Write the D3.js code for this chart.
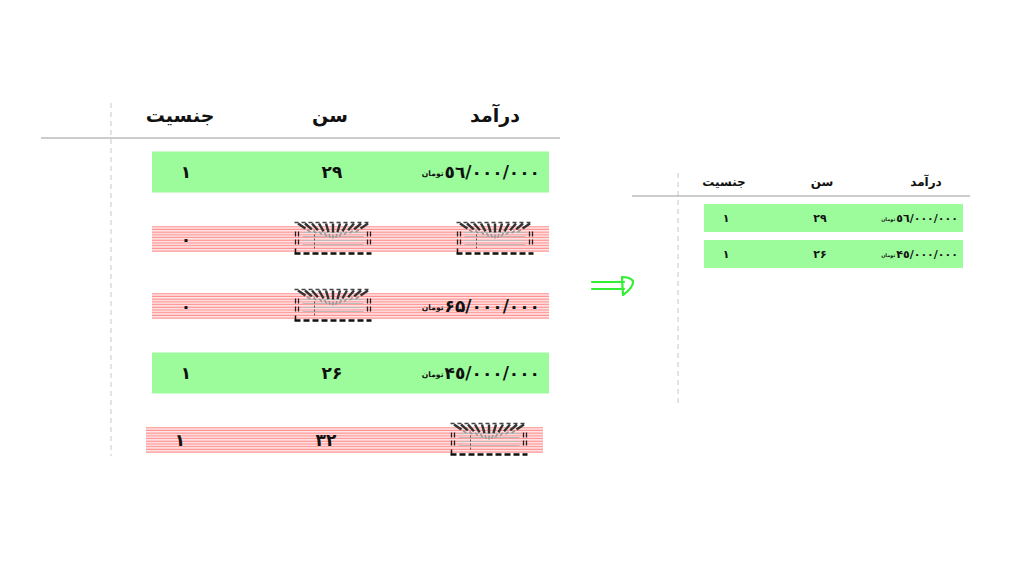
<!DOCTYPE html>
<html lang="fa">
<head>
<meta charset="utf-8">
<script src="https://cdn.jsdelivr.net/npm/d3@7"></script>
<style>
  html, body { margin:0; padding:0; background:#fff; }
  svg { display:block; }
  text { font-family:"DejaVu Sans", "Noto Sans", sans-serif; font-weight:bold; fill:#111; }
</style>
</head>
<body>
<div id="chart"></div>
<script>
/* missing-data cleanup: rows with empty cells are dropped */

const COLUMNS = ["جنسیت", "سن", "درآمد"];
const GENDER  = ["۱", "۰", "۰", "۱", "۱"];
const AGE     = ["۲۹", null, null, "۲۶", "۳۲"];
const INCOME  = ["٥٦/۰۰۰/۰۰۰", null, "۶۵/۰۰۰/۰۰۰", "۴٥/۰۰۰/۰۰۰", null];
const UNIT    = "تومان";

const ROWS = GENDER.map((g, i) => ({ i, gender:g, age:AGE[i], income:INCOME[i] }));
const complete = r => r.gender !== null && r.age !== null && r.income !== null;
const KEPT = ROWS.filter(complete);

const W = 1024, H = 576;
const svg = d3.select("#chart").append("svg").attr("width", W).attr("height", H);

const defs = svg.append("defs");
const pat = defs.append("pattern").attr("id", "stripes")
  .attr("patternUnits", "userSpaceOnUse").attr("width", 8).attr("height", 2.7);
pat.append("rect").attr("width", 8).attr("height", 2.7).attr("fill", "#fff");
pat.append("rect").attr("y", 0.5).attr("width", 8).attr("height", 1.5).attr("fill", "#ff9090");

/* one table: config gives its geometry */
function drawTable(g, rows, cfg) {
  const y = d3.scalePoint().domain(d3.range(cfg.n)).range(cfg.yRange);
  const col = d3.scaleOrdinal().domain(COLUMNS).range(cfg.colX);

  g.append("line").attr("x1", cfg.vx).attr("x2", cfg.vx)
    .attr("y1", cfg.vy[0]).attr("y2", cfg.vy[1])
    .attr("stroke", "#c8c8c8").attr("stroke-width", 1).attr("stroke-dasharray", "5,4");
  g.append("line").attr("x1", cfg.hx[0]).attr("x2", cfg.hx[1])
    .attr("y1", cfg.hy).attr("y2", cfg.hy)
    .attr("stroke", "#999").attr("stroke-width", 1.2);

  g.selectAll("text.head").data(COLUMNS).enter().append("text").attr("class", "head")
    .attr("x", d => col(d)).attr("y", cfg.headY)
    .attr("text-anchor", "middle").attr("font-size", cfg.headSize)
    .attr("direction", "rtl").text(d => d);

  const row = g.selectAll("g.row").data(rows).enter().append("g").attr("class", "row")
    .attr("transform", (d, k) => `translate(${d.i === 4 && cfg.n === 5 ? -6 : 0},${y(k)})`);

  row.append("rect")
    .attr("x", cfg.rowX[0]).attr("width", cfg.rowX[1] - cfg.rowX[0])
    .attr("y", d => complete(d) ? -cfg.fullH / 2 : -cfg.stripeH / 2)
    .attr("height", d => complete(d) ? cfg.fullH : cfg.stripeH)
    .attr("fill", d => complete(d) ? "#9cfc9c" : "url(#stripes)");

  row.append("text").attr("x", cfg.valX[0]).attr("y", 0).attr("dy", "0.36em")
    .attr("text-anchor", "middle").attr("font-size", cfg.valSize).text(d => d.gender);

  row.each(function(d) {
    const r = d3.select(this);
    if (d.age !== null) {
      r.append("text").attr("x", cfg.valX[1]).attr("y", 0).attr("dy", "0.36em")
        .attr("text-anchor", "middle").attr("font-size", cfg.valSize).text(d.age);
    } else missingIcon(r, cfg.iconX[0]);
    if (d.income !== null) {
      const num = r.append("text").attr("x", cfg.valX[2]).attr("y", 0).attr("dy", "0.36em")
        .attr("text-anchor", "end").attr("font-size", cfg.valSize).text(d.income);
      const nw = num.node().getComputedTextLength();
      r.append("text").attr("x", cfg.valX[2] - nw - 1).attr("y", 0).attr("dy", "0.55em")
        .attr("text-anchor", "end").attr("font-size", cfg.valSize * 0.45).text(UNIT);
    } else missingIcon(r, cfg.iconX[1]);
  });
}

/* the broken-image mark for an empty cell */
function missingIcon(sel, cx) {
  const w = 77, h = 33;
  const g = sel.append("g").attr("transform", `translate(${cx - w / 2},${-h / 2 - 1})`);
  d3.range(4).forEach(k => g.append("line")
    .attr("x1", 8).attr("x2", w - 8).attr("y1", 11 + k * 4).attr("y2", 11 + k * 4)
    .attr("stroke", "#bbb").attr("stroke-width", 1));
  g.append("line").attr("x1", 20).attr("x2", 20).attr("y1", 9).attr("y2", 28)
    .attr("stroke", "#555").attr("stroke-width", 1).attr("stroke-dasharray", "2,2");
  g.append("line").attr("x1", 0).attr("x2", w).attr("y1", 1).attr("y2", 1)
    .attr("stroke", "#444").attr("stroke-width", 1.6).attr("stroke-dasharray", "4,3");
  d3.range(3.5, w, 7).forEach(px => {
    const ang = Math.atan2(px - w / 2, 24);
    g.append("line")
      .attr("x1", px).attr("y1", 2)
      .attr("x2", px - Math.sin(ang) * 9).attr("y2", 2 + Math.cos(ang) * 9)
      .attr("stroke", "#333").attr("stroke-width", 2.4);
    g.append("line")
      .attr("x1", px - Math.sin(ang) * 11).attr("y1", 2 + Math.cos(ang) * 11)
      .attr("x2", px - Math.sin(ang) * 15).attr("y2", 2 + Math.cos(ang) * 15)
      .attr("stroke", "#999").attr("stroke-width", 1.6);
  });
  [[1, 4], [w - 4, w - 1]].forEach(xs => xs.forEach(px => [10, 18].forEach(py =>
    g.append("line").attr("x1", px).attr("x2", px).attr("y1", py).attr("y2", py + 5)
      .attr("stroke", "#222").attr("stroke-width", 1.3))));
  g.append("line").attr("x1", 0).attr("x2", w).attr("y1", h - 1).attr("y2", h - 1)
    .attr("stroke", "#111").attr("stroke-width", 2.6).attr("stroke-dasharray", "6,3");
  g.append("line").attr("x1", 1).attr("x2", 1).attr("y1", h - 6).attr("y2", h - 1)
    .attr("stroke", "#111").attr("stroke-width", 1.5);
}

drawTable(svg.append("g"), ROWS, {
  n: ROWS.length, yRange: [172, 440],
  colX: [180, 330, 495], headY: 122, headSize: 19,
  vx: 111, vy: [103, 456], hx: [41, 560], hy: 138,
  rowX: [152, 549], fullH: 41, stripeH: 26,
  valX: [186, 332, 540], valSize: 17, iconX: [333, 495]
});

drawTable(svg.append("g"), KEPT, {
  n: KEPT.length, yRange: [218, 254],
  colX: [724, 822, 926], headY: 186, headSize: 12,
  vx: 678, vy: [173, 404], hx: [632, 970], hy: 196,
  rowX: [704, 963], fullH: 28, stripeH: 18,
  valX: [726, 820, 958], valSize: 11, iconX: [820, 920]
});

/* hand-drawn arrow between the tables */
svg.append("path")
  .attr("d", "M592,282 L624,282 M592,289 L624,289 M622,278 L623,295 Q634,287 633,281 Q630,277 622,277")
  .attr("fill", "none").attr("stroke", "#33ee33").attr("stroke-width", 2.2)
  .attr("stroke-linecap", "round").attr("stroke-linejoin", "round");
</script>
</body>
</html>
